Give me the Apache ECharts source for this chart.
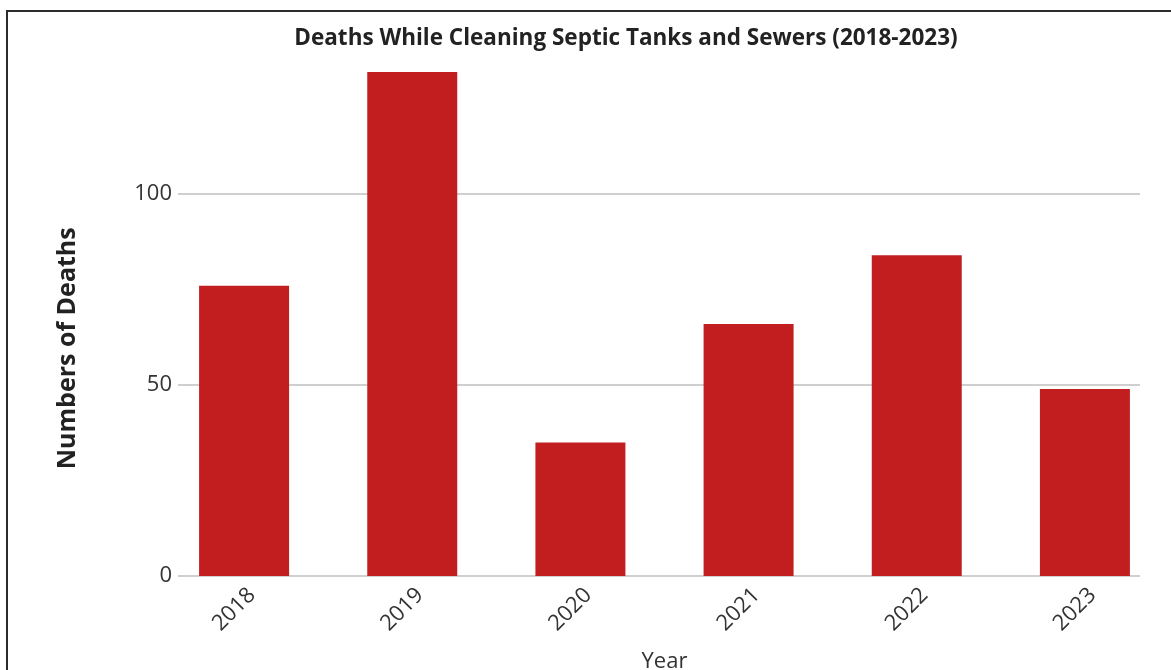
<!DOCTYPE html>
<html>
<head>
<meta charset="utf-8">
<script src="https://cdn.jsdelivr.net/npm/echarts@6/dist/echarts.min.js"></script>
<style>
  html, body { margin: 0; padding: 0; background: #fff; overflow: hidden; }
  #chart { position: absolute; left: 0; top: 0; width: 1171px; height: 670px; }
  #frame { position: absolute; left: 6px; top: 10px; width: 1200px; height: 700px; border: 2px solid #2b2b2b; pointer-events: none; }
</style>
</head>
<body>
<div id="chart"></div>
<div id="frame"></div>
<script>
const titleText = 'Deaths While Cleaning Septic Tanks and Sewers (2018-2023)';
const years = ['2018', '2019', '2020', '2021', '2022', '2023'];
const deaths = [76, 132, 35, 66, 84, 49];
const yAxisName = 'Numbers of Deaths';
const xAxisName = 'Year';

const FONT = '"Open Sans", "Noto Sans", sans-serif';
const Y_MAX = 140;

const chart = echarts.init(document.getElementById('chart'), null, { renderer: 'canvas' });
chart.setOption({
  animation: false,
  backgroundColor: '#ffffff',
  textStyle: { fontFamily: FONT },
  title: {
    text: titleText,
    left: 626,
    textAlign: 'center',
    top: 27,
    padding: 0,
    textStyle: { fontFamily: FONT, fontWeight: 'bold', fontSize: 22.5, color: '#222' }
  },
  grid: [
    { left: 160, right: 2, top: 41.5, bottom: 94, containLabel: false, outerBoundsMode: 'none' },
    { left: 178, right: 31, top: 41.5, bottom: 94, containLabel: false, outerBoundsMode: 'none' }
  ],
  xAxis: [
    {
      type: 'category',
      gridIndex: 0,
      data: years,
      name: xAxisName,
      nameLocation: 'middle',
      nameGap: 75,
      nameTextStyle: { fontFamily: FONT, fontSize: 22, color: '#333' },
      axisLine: { show: false },
      axisTick: { show: false },
      axisLabel: { rotate: 45, margin: 8, verticalAlign: 'top', fontSize: 22, color: '#333', fontFamily: FONT },
      splitLine: { show: false }
    },
    { type: 'value', gridIndex: 1, show: false }
  ],
  yAxis: [
    { type: 'value', gridIndex: 0, min: 0, max: Y_MAX, show: false, splitLine: { show: false } },
    {
      type: 'value',
      gridIndex: 1,
      min: 0,
      max: Y_MAX,
      interval: 50,
      name: yAxisName,
      nameLocation: 'middle',
      nameRotate: 90,
      nameGap: 98,
      nameTextStyle: { fontFamily: FONT, fontWeight: 'bold', fontSize: 25, color: '#222', padding: [0, 79, 0, 0] },
      axisLine: { show: false },
      axisTick: { show: false },
      axisLabel: { showMaxLabel: false, margin: 6, fontSize: 22, color: '#333', fontFamily: FONT },
      splitLine: { show: true, showMaxLine: false, lineStyle: { color: '#cfcfcf', width: 2 } }
    }
  ],
  series: [
    {
      type: 'bar',
      xAxisIndex: 0,
      yAxisIndex: 0,
      data: deaths,
      barWidth: 90,
      z: 3,
      itemStyle: { color: '#c21e20' }
    }
  ]
});
</script>
</body>
</html>
